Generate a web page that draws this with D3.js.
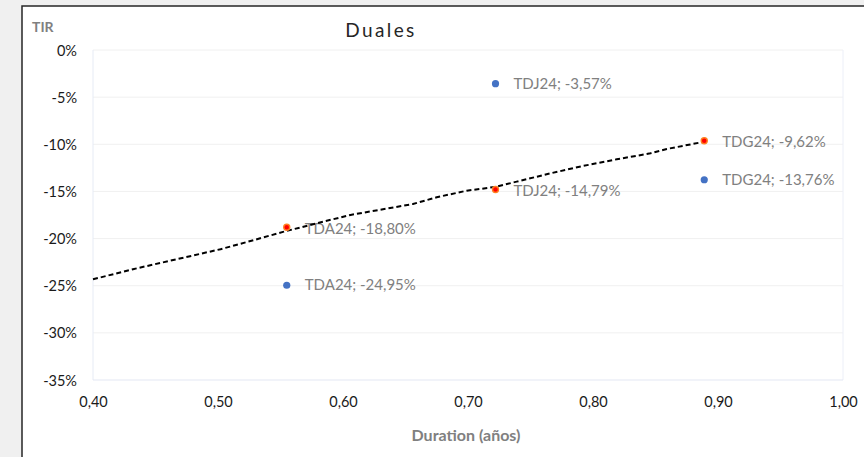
<!DOCTYPE html>
<html>
<head>
<meta charset="utf-8">
<script src="https://cdn.jsdelivr.net/npm/d3@7"></script>
<style>
  html, body { margin: 0; padding: 0; background: #f0f0f0; }
  svg { display: block; }
  text { font-family: Lato, "Open Sans", sans-serif; }
</style>
</head>
<body>
<svg id="chart" width="864" height="457"></svg>
<script>
// ---- data ----
const bonds = ["TDJ24", "TDA24", "TDG24"];
const blueDuration = [0.722, 0.555, 0.889];
const blueTIR = [-3.57, -24.95, -13.76];
const redDuration = [0.722, 0.555, 0.889];
const redTIR = [-14.79, -18.80, -9.62];
// trendline (duration, TIR %)
const trendX = [0.400, 0.432, 0.467, 0.502, 0.526, 0.552, 0.579, 0.606, 0.632, 0.656, 0.675, 0.699, 0.722, 0.739, 0.766, 0.792, 0.819, 0.846, 0.859, 0.889];
const trendY = [-24.32, -23.25, -22.19, -21.13, -20.26, -19.29, -18.38, -17.49, -16.89, -16.33, -15.62, -14.92, -14.52, -13.96, -13.08, -12.30, -11.59, -10.96, -10.50, -9.73];
const xTicks = [0.40, 0.50, 0.60, 0.70, 0.80, 0.90, 1.00];
const yTicks = [0, -5, -10, -15, -20, -25, -30, -35];
const chartTitle = "Duales";
const xTitle = "Duration (años)";
const yTitle = "TIR";

// ---- layout ----
const svg = d3.select("#chart");
const locale = d3.formatLocale({decimal: ",", thousands: ".", grouping: [3], currency: ["", "€"], minus: "-"});
const fmtX = locale.format(".2f");
const fmtY = d => locale.format(".0f")(d) + "%";

const x = d3.scaleLinear().domain([0.40, 1.00]).range([93, 843]);
const y = d3.scaleLinear().domain([0, -35]).range([50, 380]);

// chart area with dark border (top + left visible)
svg.append("rect").attr("x", 22).attr("y", 6).attr("width", 900).attr("height", 500)
  .attr("fill", "#ffffff").attr("stroke", "#262626").attr("stroke-width", 1.5);

// gridlines
const grid = svg.append("g");
grid.selectAll("line").data(yTicks.filter(t => t !== -35)).join("line")
  .attr("x1", x(0.40)).attr("x2", x(1.00))
  .attr("y1", d => y(d)).attr("y2", d => y(d))
  .attr("stroke", "#f0f0f0").attr("stroke-width", 1);

// plot frame lines (light)
svg.append("line").attr("x1", x(0.40)).attr("x2", x(0.40)).attr("y1", y(0)).attr("y2", y(-35))
  .attr("stroke", "#e6ebf5");
svg.append("line").attr("x1", x(1.00)).attr("x2", x(1.00)).attr("y1", y(0)).attr("y2", y(-35))
  .attr("stroke", "#eceff8");
svg.append("line").attr("x1", x(0.40)).attr("x2", x(1.00)).attr("y1", y(-35)).attr("y2", y(-35))
  .attr("stroke", "#e3e7f3");

// axes
const yAxis = svg.append("g").attr("transform", `translate(${x(0.40)},0)`)
  .call(d3.axisLeft(y).tickValues(yTicks).tickFormat(fmtY).tickSize(0).tickPadding(16));
yAxis.select(".domain").remove();
yAxis.selectAll("text").attr("fill", "#1a1a1a").style("font-size", "14.5px").attr("dy", "0.35em");

const xAxis = svg.append("g").attr("transform", `translate(0,${y(-35)})`)
  .call(d3.axisBottom(x).tickValues(xTicks).tickFormat(fmtX).tickSize(0).tickPadding(17));
xAxis.select(".domain").remove();
xAxis.selectAll("text").attr("fill", "#1a1a1a").style("font-size", "14.5px");

// titles
svg.append("text").attr("x", 381).attr("y", 37).attr("text-anchor", "middle")
  .attr("fill", "#262626").style("font-size", "19px").style("letter-spacing", "2.4px").text(chartTitle);
svg.append("text").attr("x", 32).attr("y", 32)
  .attr("fill", "#808080").style("font-size", "14px").style("font-weight", "bold").text(yTitle);
svg.append("text").attr("x", 466).attr("y", 441).attr("text-anchor", "middle")
  .attr("fill", "#808080").style("font-size", "16px").style("font-weight", "bold").text(xTitle);

// labels
const labelFmt = v => locale.format(".2f")(v) + "%";
const blue = bonds.map((b, i) => ({name: b, d: blueDuration[i], v: blueTIR[i]}));
const red = bonds.map((b, i) => ({name: b, d: redDuration[i], v: redTIR[i]}));

const labels = svg.append("g");
labels.selectAll("text.b").data(blue).join("text").attr("class", "b")
  .attr("x", d => x(d.d) + 18).attr("y", d => y(d.v)).attr("dy", "0.35em")
  .attr("fill", "#808080").style("font-size", "15px")
  .text(d => `${d.name}; ${labelFmt(d.v)}`);
labels.selectAll("text.r").data(red).join("text").attr("class", "r")
  .attr("x", d => x(d.d) + 18).attr("y", d => y(d.v) + 1).attr("dy", "0.35em")
  .attr("fill", "#808080").style("font-size", "15px")
  .text(d => `${d.name}; ${labelFmt(d.v)}`);

// trendline
const line = d3.line().x(d => x(d[0])).y(d => y(d[1]));
svg.append("path").datum(trendX.map((t, i) => [t, trendY[i]]))
  .attr("d", line).attr("fill", "none").attr("stroke", "#000")
  .attr("stroke-width", 2).attr("stroke-dasharray", "5,3");

// points
svg.append("g").selectAll("circle").data(blue).join("circle")
  .attr("cx", d => x(d.d)).attr("cy", d => y(d.v)).attr("r", 3.6)
  .attr("fill", "#4472c4");
svg.append("g").selectAll("circle").data(red).join("circle")
  .attr("cx", d => x(d.d)).attr("cy", d => y(d.v)).attr("r", 3)
  .attr("fill", "#ff0000").attr("stroke", "#ff8020").attr("stroke-width", 1.4);
</script>
</body>
</html>
